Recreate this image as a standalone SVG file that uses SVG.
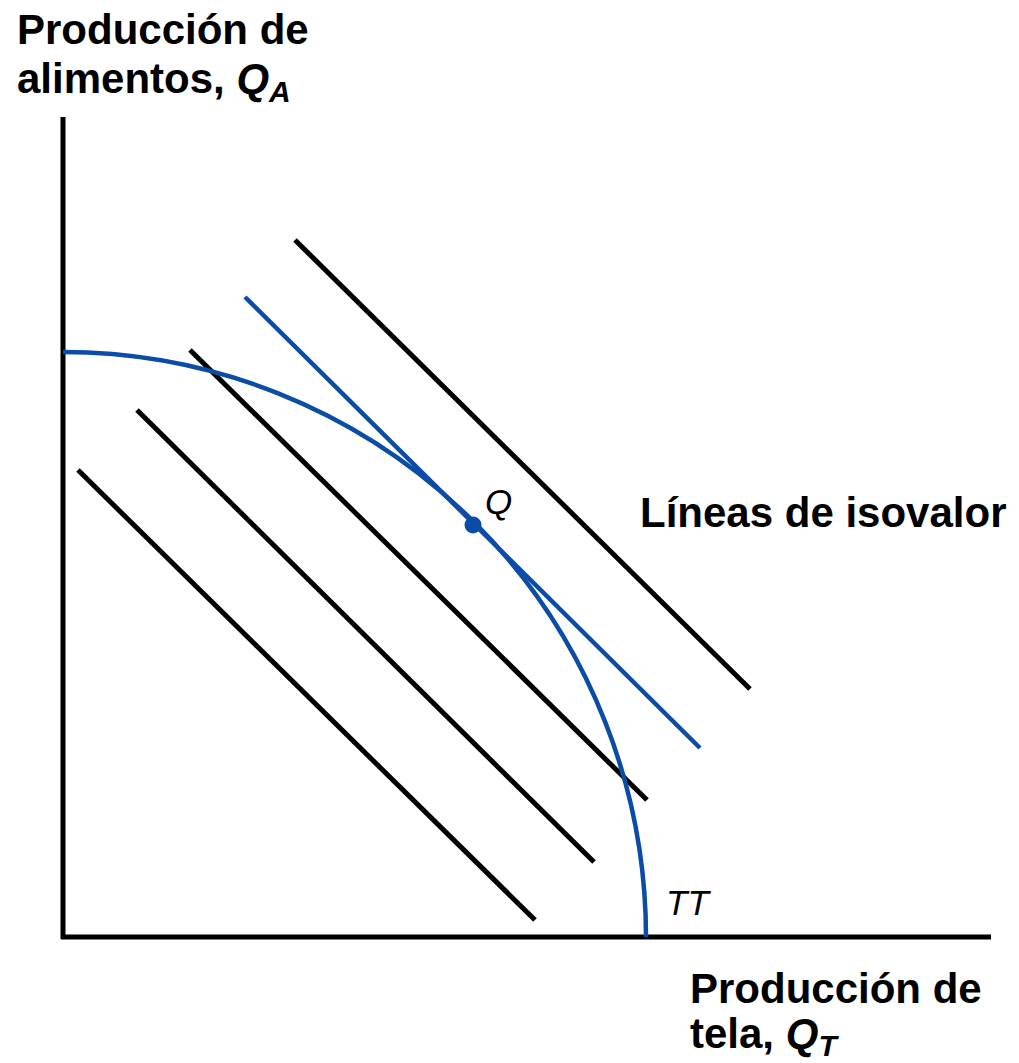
<svg xmlns="http://www.w3.org/2000/svg" width="1019" height="1063" viewBox="0 0 1019 1063">
<style>
.lbl{font-family:"Liberation Sans",Arial,sans-serif;font-weight:bold;font-size:42px;fill:#000}
.it{font-style:italic}
.sub{font-size:30px}
.pt{font-family:"Liberation Sans",Arial,sans-serif;font-style:italic;font-size:35px;fill:#000}
.blk{stroke:#000;stroke-width:5;fill:none}
.blu{stroke:#0a4ca6;stroke-width:4.5;fill:none}
</style>
<rect width="1019" height="1063" fill="#fff"/>
<g id="axes">
<line class="blk" x1="63" y1="117" x2="63" y2="939"/>
<line class="blk" x1="61" y1="937" x2="991" y2="937"/>
</g>
<g id="connectors">
<line class="blk" x1="295" y1="240" x2="750" y2="689"/>
<line class="blu" x1="245" y1="297" x2="700" y2="748"/>
<line class="blk" x1="190" y1="350" x2="647" y2="800"/>
<line class="blk" x1="137" y1="410" x2="594" y2="862"/>
<line class="blk" x1="78" y1="470" x2="535" y2="920"/>
</g>
<g id="TT">
<path class="blu" d="M 63 352 A 583 585 0 0 1 646 937"/>
<text class="pt" x="666" y="915">TT</text>
</g>
<g id="Q">
<circle cx="473" cy="525" r="8.5" fill="#0a4ca6"/>
<text class="pt" x="485" y="514">Q</text>
</g>
<g id="label-y">
<text class="lbl" x="17" y="44">Producción de</text>
<text class="lbl" x="17" y="93">alimentos, <tspan class="it">Q</tspan><tspan class="it sub" dy="9">A</tspan></text>
</g>
<g id="label-x">
<text class="lbl" x="690" y="1003">Producción de</text>
<text class="lbl" x="690" y="1048">tela, <tspan class="it">Q</tspan><tspan class="it sub" dy="8">T</tspan></text>
</g>
<g id="label-iso">
<text class="lbl" x="640" y="527">Líneas de isovalor</text>
</g>
</svg>
